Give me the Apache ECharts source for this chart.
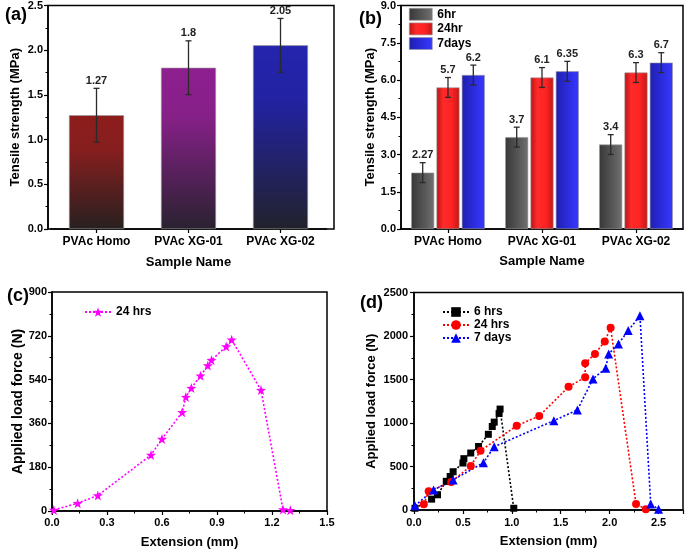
<!DOCTYPE html>
<html><head><meta charset="utf-8">
<script src="https://cdn.jsdelivr.net/npm/echarts@6/dist/echarts.min.js"></script>
<style>html,body{margin:0;padding:0;background:#fff}#c{width:685px;height:551px}</style>
</head><body><div id="c"></div><script>
// ---------- data ----------
const samples = ['PVAc Homo', 'PVAc XG-01', 'PVAc XG-02'];
const tensileA = [1.27, 1.8, 2.05];
const errA = [0.3, 0.3, 0.3];

const timesB = ['6hr', '24hr', '7days'];
const tensileB6hr = [2.27, 3.7, 3.4];
const tensileB24hr = [5.7, 6.1, 6.3];
const tensileB7days = [6.2, 6.35, 6.7];
const errB6hr = [0.4, 0.4, 0.4];
const errB24hr = [0.4, 0.4, 0.4];
const errB7days = [0.4, 0.4, 0.4];

const extC24 = [0.01, 0.14, 0.25, 0.54, 0.60, 0.71, 0.73, 0.76, 0.81, 0.85, 0.87, 0.95, 0.98, 1.14, 1.26, 1.30];
const loadC24 = [4, 32, 64, 230, 296, 406, 468, 505, 556, 598, 620, 676, 704, 497, 6, 3];

const extD6 = [0.01, 0.18, 0.24, 0.33, 0.37, 0.40, 0.50, 0.51, 0.58, 0.66, 0.76, 0.80, 0.82, 0.87, 0.88, 1.02];
const loadD6 = [20, 125, 175, 330, 385, 440, 540, 590, 655, 730, 870, 960, 1010, 1110, 1160, 20];
const extD24 = [0.10, 0.15, 0.38, 0.58, 0.68, 1.05, 1.28, 1.58, 1.75, 1.75, 1.85, 1.95, 2.01, 2.27, 2.37];
const loadD24 = [65, 215, 322, 506, 682, 968, 1081, 1416, 1526, 1687, 1794, 1938, 2094, 69, 8];
const extD7 = [0.01, 0.20, 0.40, 0.71, 0.82, 1.43, 1.67, 1.83, 1.96, 1.99, 2.09, 2.19, 2.31, 2.42, 2.50];
const loadD7 = [50, 230, 345, 544, 728, 1027, 1150, 1507, 1630, 1794, 1909, 2063, 2232, 69, 8];

const seriesNamesD = ['6 hrs', '24 hrs ', '7 days'];
const seriesNameC = '24 hrs';

// ---------- styles ----------
const FONT = '"Liberation Sans", Arial, sans-serif';
const colorsA = [['#8e1d1d', '#861e1e', '#282020'], ['#8e1f90', '#862088', '#2a2230'], ['#2424ae', '#2222a2', '#22222c']];
const gradV = c => ({type: 'linear', x: 0, y: 0, x2: 0, y2: 1, colorStops: [{offset: 0, color: c[0]}, {offset: 0.3, color: c[1]}, {offset: 1, color: c[2]}]});
const gradH = stops => ({type: 'linear', x: 0, y: 0, x2: 1, y2: 0, colorStops: stops});
const colB = [
  gradH([{offset: 0, color: '#383838'}, {offset: 0.7, color: '#5e5e5e'}, {offset: 1, color: '#727272'}]),
  gradH([{offset: 0, color: '#b81515'}, {offset: 0.3, color: '#ff2a2a'}, {offset: 0.65, color: '#ff2323'}, {offset: 1, color: '#c21818'}]),
  gradH([{offset: 0, color: '#1f1fae'}, {offset: 0.5, color: '#2b2bdc'}, {offset: 1, color: '#3838ff'}])
];
const starPath = 'path://M100,0 L123.5,67.6 L195.1,69.1 L138,112.4 L158.8,180.9 L100,140 L41.2,180.9 L62,112.4 L4.9,69.1 L76.5,67.6 Z';

const axisLine = {show: true, lineStyle: {color: '#000', width: 1.5}};
const tick = {show: true, inside: false, length: 4, lineStyle: {color: '#000', width: 1.2}};
const minor = {show: true, splitNumber: 2, length: 2.5, lineStyle: {color: '#000', width: 1}};
const lbl = (fmt, m, size) => ({show: true, color: '#000', fontWeight: 'bold', fontSize: size || 11, fontFamily: FONT, margin: m, formatter: fmt});
const nameStyle = size => ({color: '#000', fontWeight: 'bold', fontSize: size || 13, fontFamily: FONT});
const f1 = v => v.toFixed(1);
const f0 = v => String(Math.round(v));

function errRender(offset, capHalf) {
  return function (params, api) {
    const x = api.coord([api.value(0), api.value(1)])[0] + offset;
    const yl = api.coord([api.value(0), api.value(2)])[1];
    const yh = api.coord([api.value(0), api.value(3)])[1];
    const st = {stroke: '#2a2a2a', lineWidth: 1.3};
    return {type: 'group', children: [
      {type: 'line', shape: {x1: x, y1: yl, x2: x, y2: yh}, style: st},
      {type: 'line', shape: {x1: x - capHalf, y1: yl, x2: x + capHalf, y2: yl}, style: st},
      {type: 'line', shape: {x1: x - capHalf, y1: yh, x2: x + capHalf, y2: yh}, style: st},
      {type: 'text', x: x, y: yh - 2, style: {text: String(api.value(1)), textAlign: 'center', textVerticalAlign: 'bottom', font: 'bold 11px ' + FONT, fill: '#222'}}
    ]};
  };
}
const errData = (vals, errs) => vals.map((v, i) => [i, v, v - errs[i], v + errs[i]]);

const BW = 23, BG = 2.3;
const barB = (name, vals, i) => ({
  name: name, type: 'bar', xAxisIndex: 2, yAxisIndex: 2, data: vals, barWidth: BW, barGap: '10%',
  itemStyle: {color: colB[i], borderColor: '#9a9a9a', borderWidth: 0.6}, z: 2
});
const errB = (vals, errs, i) => ({
  type: 'custom', xAxisIndex: 2, yAxisIndex: 2, data: errData(vals, errs),
  renderItem: errRender((i - 1) * (BW + BG), 3), z: 5
});
const lineS = (name, xs, ys, xi, color, symbol, size) => ({
  name: name, type: 'line', xAxisIndex: xi, yAxisIndex: xi,
  data: xs.map((x, i) => [x, ys[i]]),
  symbol: symbol, symbolSize: size, showSymbol: true,
  lineStyle: {color: color, width: 1.6, type: [2, 2]},
  itemStyle: {color: color}, z: 3
});

const frame = {show: true, borderColor: '#000', borderWidth: 1.5, backgroundColor: 'transparent'};

const option = {
  animation: false,
  backgroundColor: '#fff',
  textStyle: {fontFamily: FONT},
  title: [
    {text: '(a)', left: 0, top: 1, textStyle: {fontSize: 18, fontWeight: 'bold', fontFamily: FONT, color: '#000'}},
    {text: '(b)', left: 354, top: 5, textStyle: {fontSize: 18, fontWeight: 'bold', fontFamily: FONT, color: '#000'}},
    {text: '(c)', left: 2, top: 282, textStyle: {fontSize: 18, fontWeight: 'bold', fontFamily: FONT, color: '#000'}},
    {text: '(d)', left: 355, top: 289, textStyle: {fontSize: 18, fontWeight: 'bold', fontFamily: FONT, color: '#000'}}
  ],
  grid: [
    Object.assign({left: 48, top: 5, width: 286, height: 224}, frame),
    {left: 50.5, top: 5, width: 276, height: 224, show: false},
    Object.assign({left: 401, top: 5, width: 282, height: 224}, frame),
    Object.assign({left: 52, top: 292, width: 275, height: 219}, frame),
    Object.assign({left: 414, top: 292.5, width: 269, height: 217.5}, frame)
  ],
  legend: [
    {data: timesB, orient: 'vertical', left: 409, top: 8, padding: 0, itemGap: 2, itemWidth: 23, itemHeight: 12, icon: 'rect',
     textStyle: {fontWeight: 'bold', fontSize: 12, fontFamily: FONT, color: '#000'}, itemStyle: {borderColor: '#999', borderWidth: 0.6}},
    {data: [seriesNameC], left: 84, top: 306, padding: 0, itemWidth: 26, itemHeight: 12,
     textStyle: {fontWeight: 'bold', fontSize: 12, fontFamily: FONT, color: '#000'}},
    {data: seriesNamesD, orient: 'vertical', left: 442, top: 306, padding: 0, itemGap: 1, itemWidth: 26, itemHeight: 12,
     textStyle: {fontWeight: 'bold', fontSize: 12, fontFamily: FONT, color: '#000'}}
  ],
  xAxis: [
    {gridIndex: 0, type: 'value', min: 0, max: 1, show: false},
    {gridIndex: 1, type: 'category', data: samples, axisLine: axisLine,
     axisTick: Object.assign({alignWithLabel: true}, tick), axisLabel: lbl(null, 7, 12),
     name: 'Sample Name', nameLocation: 'middle', nameGap: 27, nameTextStyle: nameStyle(13)},
    {gridIndex: 2, type: 'category', data: samples, axisLine: axisLine,
     axisTick: Object.assign({alignWithLabel: true}, tick), axisLabel: lbl(null, 7, 12),
     name: 'Sample Name', nameLocation: 'middle', nameGap: 26, nameTextStyle: nameStyle(13)},
    {gridIndex: 3, type: 'value', min: 0, max: 1.5, interval: 0.3, axisLine: axisLine, axisTick: tick, minorTick: minor,
     splitLine: {show: false}, axisLabel: lbl(f1, 6), name: 'Extension (mm)', nameLocation: 'middle', nameGap: 25, nameTextStyle: nameStyle(13)},
    {gridIndex: 4, type: 'value', min: 0, max: 2.75, interval: 0.5, axisLine: axisLine, axisTick: tick, minorTick: minor,
     splitLine: {show: false}, axisLabel: Object.assign(lbl(f1, 7), {showMaxLabel: false}), name: 'Extension (mm)', nameLocation: 'middle', nameGap: 25, nameTextStyle: nameStyle(13)}
  ],
  yAxis: [
    {gridIndex: 0, type: 'value', min: 0, max: 2.5, interval: 0.5, axisLine: axisLine, axisTick: tick, minorTick: minor,
     splitLine: {show: false}, axisLabel: lbl(f1, 5), name: 'Tensile strength (MPa)', nameLocation: 'middle', nameGap: 26, nameTextStyle: nameStyle(13)},
    {gridIndex: 1, type: 'value', min: 0, max: 2.5, interval: 0.5, show: false, splitLine: {show: false}},
    {gridIndex: 2, type: 'value', min: 0, max: 9, interval: 1.5, axisLine: axisLine, axisTick: tick, minorTick: minor,
     splitLine: {show: false}, axisLabel: lbl(f1, 5), name: 'Tensile strength (MPa)', nameLocation: 'middle', nameGap: 24, nameTextStyle: nameStyle(13)},
    {gridIndex: 3, type: 'value', min: 0, max: 900, interval: 180, axisLine: axisLine, axisTick: tick, minorTick: minor,
     splitLine: {show: false}, axisLabel: lbl(f0, 5), name: 'Applied load force (N)', nameLocation: 'middle', nameGap: 24, nameTextStyle: nameStyle(14)},
    {gridIndex: 4, type: 'value', min: 0, max: 2500, interval: 500, axisLine: axisLine, axisTick: tick, minorTick: minor,
     splitLine: {show: false}, axisLabel: lbl(f0, 6), name: 'Applied load force (N)', nameLocation: 'middle', nameGap: 36, nameTextStyle: nameStyle(13)}
  ],
  series: [
    {type: 'bar', xAxisIndex: 1, yAxisIndex: 1, barWidth: 55, z: 2,
     data: tensileA.map((v, i) => ({value: v, itemStyle: {color: gradV(colorsA[i]), borderColor: '#9a9a9a', borderWidth: 0.6}}))},
    {type: 'custom', xAxisIndex: 1, yAxisIndex: 1, data: errData(tensileA, errA), renderItem: errRender(0, 3), z: 5},
    barB(timesB[0], tensileB6hr, 0),
    barB(timesB[1], tensileB24hr, 1),
    barB(timesB[2], tensileB7days, 2),
    errB(tensileB6hr, errB6hr, 0),
    errB(tensileB24hr, errB24hr, 1),
    errB(tensileB7days, errB7days, 2),
    lineS(seriesNameC, extC24, loadC24, 3, '#ff00ff', starPath, 10),
    lineS(seriesNamesD[0], extD6, loadD6, 4, '#000000', 'rect', 7),
    lineS(seriesNamesD[1], extD24, loadD24, 4, '#ff0000', 'circle', 8),
    lineS(seriesNamesD[2], extD7, loadD7, 4, '#0000ff', 'triangle', 9)
  ]
};
const chart = echarts.init(document.getElementById('c'), null, {renderer: 'canvas'});
chart.setOption(option);
</script></body></html>
